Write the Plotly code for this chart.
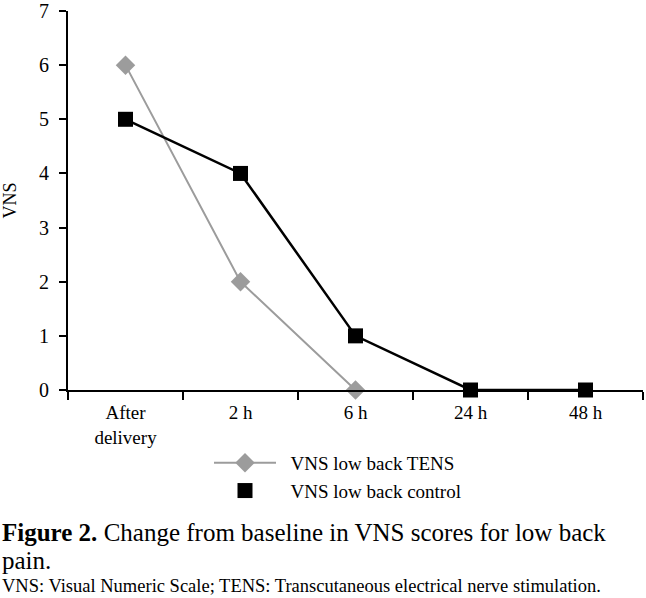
import plotly.graph_objects as go

categories = ["After<br>delivery", "2 h", "6 h", "24 h", "48 h"]
tens_values = [6, 2, 0, None, None]   # no TENS marks visible past 6 h
control_values = [5, 4, 1, 0, 0]
y_ticks = [0, 1, 2, 3, 4, 5, 6, 7]
legend_names = ["VNS low back TENS", "VNS low back control"]

FONT = "Liberation Serif"
PAD = "\u00a0\u00a0"
TOP = 11

fig = go.Figure()
fig.add_trace(go.Scatter(
    x=categories, y=tens_values, mode="lines+markers", name=PAD + legend_names[0],
    line=dict(color="#9c9c9c", width=2),
    marker=dict(symbol="diamond", size=15, color="#9c9c9c"),
    cliponaxis=False,
))
fig.add_trace(go.Scatter(
    x=categories, y=control_values, mode="lines", showlegend=False,
    line=dict(color="#000000", width=2.5), cliponaxis=False,
))
fig.add_trace(go.Scatter(
    x=categories, y=control_values, mode="markers", name=PAD + legend_names[1],
    marker=dict(symbol="square", size=15, color="#000000"),
    cliponaxis=False,
))

fig.update_layout(
    width=646, height=598,
    margin=dict(l=68, r=3, t=TOP, b=208),
    paper_bgcolor="white", plot_bgcolor="white",
    font=dict(family=FONT, size=19, color="black"),
    xaxis=dict(
        type="category", range=[-0.5, 4.5], showline=True, linecolor="black", linewidth=2,
        ticks="outside", tickson="boundaries", ticklen=8, tickwidth=2, tickcolor="black",
        showgrid=False, zeroline=False, tickfont=dict(size=19), automargin=False,
        ticklabelstandoff=4,
    ),
    yaxis=dict(
        range=[0, 7], tickvals=y_ticks, showline=True, linecolor="black", linewidth=2,
        ticks="outside", ticklen=7, tickwidth=2, tickcolor="black",
        showgrid=False, zeroline=False, tickfont=dict(size=20), automargin=False,
        ticklabelstandoff=6,
        title=dict(text="VNS", font=dict(size=18), standoff=24),
    ),
    showlegend=True,
)

def px_to_paper_y(py):
    bottom = 390
    return (bottom - py) / (bottom - TOP)

fig.update_layout(legend=dict(
    x=(209 - 68) / 575, y=px_to_paper_y(444), xanchor="left", yanchor="top",
    font=dict(size=19), bgcolor="rgba(0,0,0,0)", tracegroupgap=0,
    itemwidth=62,
))

fig.add_annotation(
    xref="paper", yref="paper", x=-68/575, y=px_to_paper_y(532), xanchor="left", yanchor="middle",
    text="<b>Figure 2.</b> Change from baseline in VNS scores for low back",
    showarrow=False, align="left", font=dict(size=25, family=FONT),
)
fig.add_annotation(
    xref="paper", yref="paper", x=-68/575, y=px_to_paper_y(560), xanchor="left", yanchor="middle",
    text="pain.",
    showarrow=False, align="left", font=dict(size=25, family=FONT),
)
fig.add_annotation(
    xref="paper", yref="paper", x=-68/575, y=px_to_paper_y(586), xanchor="left", yanchor="middle",
    text="VNS: Visual Numeric Scale; TENS: Transcutaneous electrical nerve stimulation.",
    showarrow=False, align="left", font=dict(size=18.5, family=FONT),
)

fig.write_html("out.html", config={"displayModeBar": False},
               post_script="document.body.style.margin='0';")
